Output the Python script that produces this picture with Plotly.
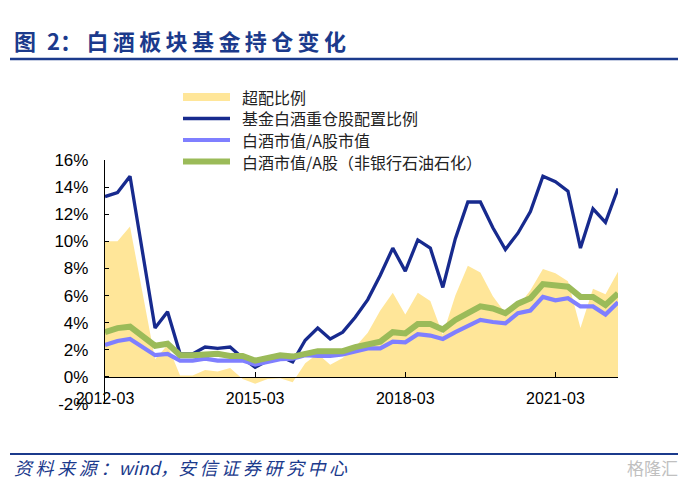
import plotly.graph_objects as go

# ---------------- data ----------------
quarters = [f"{y}-{m:02d}" for y in range(2012, 2023) for m in (3, 6, 9, 12)][:42]

# 超配比例 (%)
overweight = [10.0, 10.0, 11.1, 6.25, 1.3, 2.35, 0.1, 0.1, 0.5, 0.4,
              0.65, -0.15, -0.5, -0.15, -0.1, -0.4, 1.0, 1.7, 0.9, 1.4,
              2.2, 3.25, 4.9, 6.2, 4.6, 6.2, 5.6, 3.1, 6.0, 8.2,
              7.7, 5.95, 4.7, 5.2, 6.4, 7.95, 7.65, 7.05, 3.6, 6.5,
              6.1, 7.75]
# 基金白酒重仓股配置比例 (%)
fund_ratio = [13.3, 13.6, 14.8, 9.2, 3.6, 4.8, 1.7, 1.7, 2.2, 2.1,
              2.2, 1.4, 0.7, 1.2, 1.5, 1.1, 2.7, 3.6, 2.8, 3.3,
              4.4, 5.7, 7.5, 9.5, 7.8, 10.1, 9.5, 6.6, 10.2, 12.9,
              12.9, 11.0, 9.4, 10.6, 12.2, 14.8, 14.4, 13.7, 9.5, 12.4,
              11.4, 13.9]
# 白酒市值/A股市值 (%)
share_all_a = [2.35, 2.65, 2.8, 2.2, 1.6, 1.7, 1.2, 1.2, 1.35, 1.2,
               1.2, 1.2, 0.9, 1.1, 1.3, 1.35, 1.6, 1.55, 1.55, 1.65,
               1.9, 2.1, 2.1, 2.6, 2.55, 3.15, 3.05, 2.8, 3.3, 3.75,
               4.2, 4.05, 3.95, 4.7, 4.9, 5.9, 5.65, 5.8, 5.2, 5.2,
               4.6, 5.5]
# 白酒市值/A股（非银行石油石化） (%)
share_ex_fin = [3.3, 3.6, 3.7, 2.95, 2.3, 2.45, 1.6, 1.6, 1.7, 1.7,
                1.55, 1.55, 1.2, 1.35, 1.6, 1.5, 1.7, 1.9, 1.9, 1.9,
                2.2, 2.45, 2.6, 3.3, 3.2, 3.9, 3.9, 3.5, 4.2, 4.7,
                5.2, 5.05, 4.7, 5.4, 5.8, 6.85, 6.75, 6.65, 5.9, 5.9,
                5.3, 6.15]

x_tick_labels = ["2012-03", "2015-03", "2018-03", "2021-03"]
y_tick_values = [-2, 0, 2, 4, 6, 8, 10, 12, 14, 16]
y_tick_text = ["-2%", "0%", "2%", "4%", "6%", "8%", "10%", "12%", "14%", "16%"]

names = ["超配比例", "基金白酒重仓股配置比例", "白酒市值/A股市值", "白酒市值/A股（非银行石油石化）"]
colors = ["#FFE699", "#172A8E", "#7F7FFF", "#9BBB59"]
widths = [0, 3.3, 4.2, 6]

# ---------------- styling ----------------
W, H = 687, 486
L, R, T, B = 105, 69, 160, 82
PW, PH = W - L - R, H - T - B
NAVY = "#1B3A8C"
CJK = "Noto Sans CJK SC, Liberation Sans, sans-serif"
ARIAL = "Liberation Sans, Arial, sans-serif"
THIN = "\u2009"


def px_x(px):
    return (px - L) / PW


def px_y(py):
    return (H - B - py) / PH


def spaced(s):
    return THIN.join(list(s))


fig = go.Figure()
series = [overweight, fund_ratio, share_all_a, share_ex_fin]
for i, vals in enumerate(series):
    if i == 0:
        fig.add_trace(go.Scatter(x=quarters, y=vals, name=names[i], mode="lines",
                                 line=dict(width=0, color=colors[i]), fill="tozeroy",
                                 fillcolor=colors[i], showlegend=False))
    else:
        fig.add_trace(go.Scatter(x=quarters, y=vals, name=names[i], mode="lines",
                                 line=dict(width=widths[i], color=colors[i]),
                                 showlegend=False))

fig.update_layout(
    width=W, height=H,
    margin=dict(l=L, r=R, t=T, b=B, autoexpand=False),
    paper_bgcolor="white", plot_bgcolor="white",
    font=dict(family=ARIAL, size=16, color="black"),
    showlegend=False,
    xaxis=dict(type="category", range=[0, 41], showgrid=False, zeroline=False,
               anchor="free", position=2 / 18,
               showline=True, linecolor="black", linewidth=1.3,
               ticks="inside", ticklen=5, tickcolor="black", tickwidth=1.3,
               tickmode="array", tickvals=x_tick_labels, ticktext=x_tick_labels,
               tickfont=dict(family=ARIAL, size=16, color="black"),
               ticklabelstandoff=7),
    yaxis=dict(range=[-2, 16], showgrid=False, zeroline=False,
               showline=True, linecolor="black", linewidth=1.3,
               ticks="inside", ticklen=4, tickcolor="black", tickwidth=1.3,
               tickmode="array", tickvals=y_tick_values, ticktext=y_tick_text,
               tickfont=dict(family=ARIAL, size=17, color="black"),
               ticklabelstandoff=12),
)

# manual legend (swatches + labels)
legend_rows = [97, 118.5, 140, 161.5]
for i, yy in enumerate(legend_rows):
    lw = 8 if i == 0 else max(widths[i], 3.5)
    fig.add_shape(type="line", xref="paper", yref="paper",
                  x0=px_x(183), x1=px_x(230), y0=px_y(yy), y1=px_y(yy),
                  line=dict(color=colors[i], width=lw))
    fig.add_annotation(xref="paper", yref="paper", x=px_x(240), y=px_y(yy),
                       xanchor="left", yanchor="middle", showarrow=False,
                       text=names[i],
                       font=dict(family=CJK, size=16, color="#222222"))

# title, footer, watermark
fig.add_annotation(xref="paper", yref="paper", x=px_x(12), y=px_y(40),
                   xanchor="left", yanchor="middle", showarrow=False,
                   text="<b>图\u2002" + "2：" + THIN + spaced("白酒板块基金持仓变化") + "</b>",
                   font=dict(family=CJK, size=22, color=NAVY))
fig.add_annotation(xref="paper", yref="paper", x=px_x(12), y=px_y(467),
                   xanchor="left", yanchor="middle", showarrow=False,
                   text="<i>" + spaced("资料来源：") + "wind，" + spaced("安信证券研究中心") + "</i>",
                   font=dict(family=CJK, size=18, color=NAVY))
fig.add_annotation(xref="paper", yref="paper", x=px_x(680), y=px_y(467),
                   xanchor="right", yanchor="middle", showarrow=False,
                   text="格隆汇",
                   font=dict(family=CJK, size=17, color="#C0C0C0"))

fig.add_shape(type="line", xref="paper", yref="paper",
              x0=px_x(10), x1=px_x(678), y0=px_y(59), y1=px_y(59),
              line=dict(color=NAVY, width=2.5))
fig.add_shape(type="line", xref="paper", yref="paper",
              x0=px_x(10), x1=px_x(678), y0=px_y(454), y1=px_y(454),
              line=dict(color=NAVY, width=2))

fig.write_html("out.html", config={"displayModeBar": False},
               post_script="document.body.style.margin='0px';")
